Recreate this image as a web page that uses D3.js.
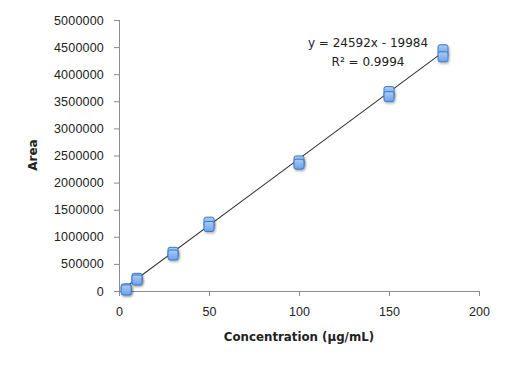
<!DOCTYPE html>
<html>
<head>
<meta charset="utf-8">
<script src="https://cdn.jsdelivr.net/npm/d3@7"></script>
<style>
  body { margin: 0; background: #fff; }
  svg { font-family: "DejaVu Sans", sans-serif; }
</style>
</head>
<body>
<svg id="chart"></svg>
<script>
const width = 512;
const height = 368;

// replicate measurements: concentration (µg/mL) and peak area
const concentrations = [4, 4, 10, 10, 30, 30, 50, 50, 100, 100, 150, 150, 180, 180];
const areas = [40000, 20000, 234000, 203000, 714000, 664000, 1270000, 1190000,
  2400000, 2340000, 3680000, 3585000, 4450000, 4320000];

const xTicks = [0, 50, 100, 150, 200];
const yTicks = [0, 500000, 1000000, 1500000, 2000000, 2500000, 3000000, 3500000, 4000000, 4500000, 5000000];

const slope = 24592;
const intercept = -19984;
const equationLines = ['y = 24592x - 19984', 'R² = 0.9994'];

const margin = { top: 20, right: 33, bottom: 77, left: 119 };

const svg = d3.select('#chart')
  .attr('width', width)
  .attr('height', height);

const x = d3.scaleLinear()
  .domain([0, 200])
  .range([margin.left, width - margin.right]);

const y = d3.scaleLinear()
  .domain([0, 5000000])
  .range([height - margin.bottom, margin.top]);

const defs = svg.append('defs');
const grad = defs.append('linearGradient')
  .attr('id', 'markerFill')
  .attr('x1', 0).attr('y1', 0).attr('x2', 0).attr('y2', 1);
grad.append('stop').attr('offset', '0%').attr('stop-color', '#aacbf5');
grad.append('stop').attr('offset', '100%').attr('stop-color', '#6aa2ea');

const shadow = defs.append('filter')
  .attr('id', 'shadow')
  .attr('x', '-50%').attr('y', '-50%').attr('width', '200%').attr('height', '200%');
shadow.append('feDropShadow')
  .attr('dx', 1).attr('dy', 1.5).attr('stdDeviation', 1)
  .attr('flood-color', '#000').attr('flood-opacity', 0.3);

const xAxis = svg.append('g')
  .attr('transform', `translate(0,${y(0)})`)
  .call(d3.axisBottom(x).tickValues(xTicks).tickSize(5).tickPadding(11));

const yAxis = svg.append('g')
  .attr('transform', `translate(${x(0)},0)`)
  .call(d3.axisLeft(y).tickValues(yTicks).tickSize(5).tickFormat(d3.format('d')).tickPadding(10));

[xAxis, yAxis].forEach(g => {
  g.selectAll('path, line').attr('stroke', '#8c8c8c');
  g.selectAll('text').attr('fill', '#222').style('font-size', '12.5px');
});
yAxis.selectAll('text').style('letter-spacing', '0.2px');
xAxis.select('.domain')
  .attr('d', `M${x(0)},0.5H${x(200)}`);
yAxis.select('.domain')
  .attr('d', `M0.5,${y(0)}V${y(5000000)}`);

// trendline across the data range
const xMin = d3.min(concentrations);
const xMax = d3.max(concentrations);
svg.append('line')
  .attr('x1', x(xMin))
  .attr('y1', y(slope * xMin + intercept))
  .attr('x2', x(xMax))
  .attr('y2', y(slope * xMax + intercept))
  .attr('stroke', '#333')
  .attr('stroke-width', 1.1);

const points = concentrations.map((c, i) => ({ c, a: areas[i] }));

svg.append('g')
  .selectAll('rect')
  .data(points)
  .enter()
  .append('rect')
  .attr('x', d => x(d.c) - 5)
  .attr('y', d => y(d.a) - 5)
  .attr('width', 10)
  .attr('height', 10)
  .attr('rx', 2)
  .attr('fill', 'url(#markerFill)')
  .attr('stroke', '#3f78c4')
  .attr('stroke-width', 1)
  .attr('filter', 'url(#shadow)');

// trendline label
svg.append('text')
  .selectAll('tspan')
  .data(equationLines)
  .enter()
  .append('tspan')
  .attr('x', 368)
  .attr('y', (d, i) => 47 + i * 19)
  .attr('text-anchor', 'middle')
  .style('font-size', '12px')
  .attr('fill', '#222')
  .text(d => d);

svg.append('text')
  .attr('x', (x(0) + x(200)) / 2)
  .attr('y', 341)
  .attr('text-anchor', 'middle')
  .style('font-size', '11.8px')
  .style('font-weight', 'bold')
  .attr('fill', '#222')
  .text('Concentration (µg/mL)');

svg.append('text')
  .attr('transform', `translate(37,155) rotate(-90)`)
  .attr('text-anchor', 'middle')
  .style('font-size', '12px')
  .style('font-weight', 'bold')
  .attr('fill', '#222')
  .text('Area');
</script>
</body>
</html>
